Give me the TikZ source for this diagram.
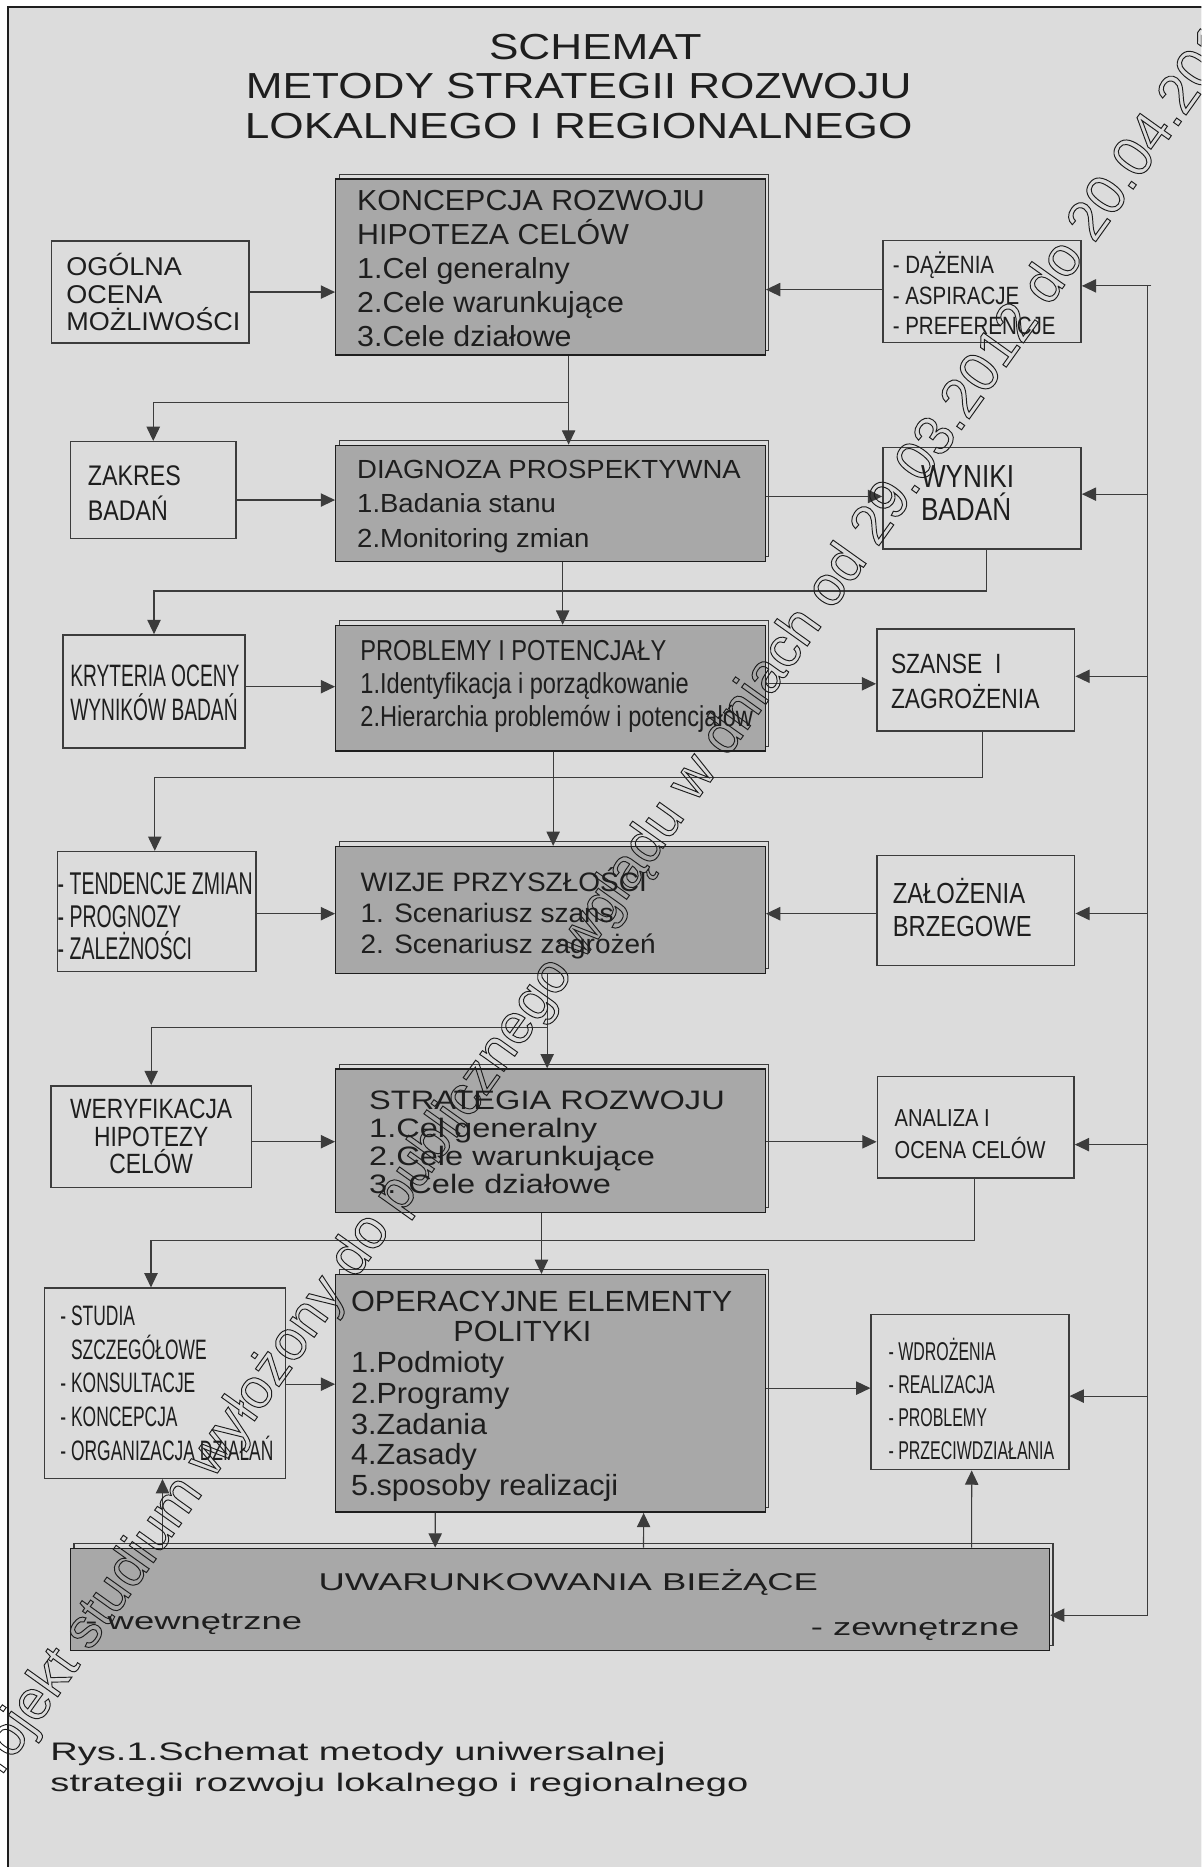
\documentclass[tikz,border=0pt]{standalone}
\usepackage{fontspec}
\setmainfont{Liberation Sans}
\newfontfamily\bardzowaski[FakeStretch=0.62]{Liberation Sans}
\newfontfamily\waski[FakeStretch=0.82]{Liberation Sans}
\newfontfamily\zwykly[FakeStretch=1.05]{Liberation Sans}
\newfontfamily\szeroki[FakeStretch=1.22]{Liberation Sans}
\newfontfamily\bszeroki[FakeStretch=1.5]{Liberation Sans}
\usetikzlibrary{arrows.meta}

\definecolor{tlo}{HTML}{DCDCDC}
\definecolor{pudlo}{HTML}{A8A8A8}
\definecolor{kreska}{HTML}{3C3C3C}
\definecolor{napis}{HTML}{1E1E1E}

\tikzset{
    ciemny/.style={draw=napis, line width=.6pt, fill=pudlo, inner sep=0pt, minimum width=180.35pt,
        preaction={draw=kreska, line width=.5pt, transform canvas={xshift=1.5pt, yshift=2pt}}},
    jasny/.style={draw=kreska, line width=.6pt, fill=tlo, inner sep=0pt},
    opis/.style={anchor=west, align=left, inner sep=0pt, text=napis},
    linia/.style={draw=kreska, line width=.5pt},
    strzalka/.style={linia, -{Triangle[length=6pt, width=5.6pt]}},
}

\begin{document}
\begin{tikzpicture}[x=0.5pt, y=-0.5pt]

        \useasboundingbox (0,0) rectangle (1009,1568);
        \clip (0,0) rectangle (1009,1568);

        % tlo i ramka
        \fill [tlo] (7,6) rectangle (1020,1580);
        \draw [napis, line width=.9pt] (7,1580) -- (7,6) -- (1020,6);

        \node [align=center, text=napis, font={\szeroki\fontsize{15.2}{16.5}\selectfont}] (tytul) at (486,72.5)
            {\hspace*{14pt}SCHEMAT\\METODY STRATEGII ROZWOJU\\LOKALNEGO I REGIONALNEGO};

        % pudla srodkowe
        \node [ciemny, minimum height=73.85pt] (koncepcja) at (462.35,224.35) {};
        \node [ciemny, minimum height=48.8pt] (diagnoza) at (462.35,422.8) {};
        \node [ciemny, minimum height=52.75pt] (problemy) at (462.35,578) {};
        \node [ciemny, minimum height=53.3pt] (wizje) at (462.35,764.3) {};
        \node [ciemny, minimum height=60.2pt] (strategia) at (462.35,958) {};
        \node [ciemny, minimum height=99.75pt] (operacyjne) at (462.35,1170.25) {};
        \node [ciemny, minimum width=411.1pt, minimum height=42.85pt] (uwarunkowania) at (470.3,1343.2) {};

        % pudla z lewej
        \node [jasny, minimum width=83pt, minimum height=42.9pt] (ogolna) at (126.1,245.3) {};
        \node [jasny, minimum width=69.5pt, minimum height=40.65pt] (zakres) at (128.7,411.65) {};
        \node [jasny, minimum width=76.55pt, minimum height=47.5pt] (kryteria) at (129.35,580.7) {};
        \node [jasny, minimum width=83.5pt, minimum height=50.35pt] (tendencje) at (131.6,765.55) {};
        \node [jasny, minimum width=84.15pt, minimum height=42.75pt, align=center, text=napis,
            font={\waski\fontsize{11.7}{11.5}\selectfont}] (weryfikacja) at (126.95,954.65) {WERYFIKACJA\\HIPOTEZY\\CELÓW};
        \node [jasny, minimum width=101pt, minimum height=79.85pt] (studia) at (138.6,1161.7) {};

        % pudla z prawej
        \node [jasny, minimum width=83.25pt, minimum height=42.8pt] (dazenia) at (824.75,244.8) {};
        \node [jasny, minimum width=83.25pt, minimum height=42.65pt] (wyniki) at (824.75,418.45) {};
        \node [jasny, minimum width=83.1pt, minimum height=42.8pt] (szanse) at (819.5,571.1) {};
        \node [jasny, minimum width=83.1pt, minimum height=46.35pt] (zalozenia) at (819.5,764.65) {};
        \node [jasny, minimum width=82.65pt, minimum height=42.65pt] (analiza) at (819.45,946.55) {};
        \node [jasny, minimum width=83pt, minimum height=65.15pt] (wdrozenia) at (814.65,1169.2) {};

        % teksty
        \node [opis, font={\zwykly\fontsize{12.15}{14.3}\selectfont}] (koncepcja tekst) at ([xshift=9.1pt, yshift=-0.55pt]koncepcja.west)
            {KONCEPCJA ROZWOJU\\HIPOTEZA CELÓW\\1.Cel generalny\\2.Cele warunkujące\\3.Cele działowe};
        \node [opis, font={\zwykly\fontsize{11}{14.45}\selectfont}] (diagnoza tekst) at ([xshift=9.1pt, yshift=-1.25pt]diagnoza.west)
            {DIAGNOZA PROSPEKTYWNA\\1.Badania stanu\\2.Monitoring zmian};
        \node [opis, font={\waski\fontsize{12.1}{14}\selectfont}] (problemy tekst) at ([xshift=10.45pt, yshift=0.7pt]problemy.west)
            {PROBLEMY I POTENCJAŁY\\1.Identyfikacja i porządkowanie\\2.Hierarchia problemów i potencjałów};
        \node [opis, font={\zwykly\fontsize{11.2}{12.9}\selectfont}] (wizje tekst) at ([xshift=10.5pt, yshift=-1.35pt]wizje.west)
            {WIZJE PRZYSZŁOŚCI\\1. Scenariusz szans\\2. Scenariusz zagrożeń};
        \node [opis, font={\szeroki\fontsize{11.2}{11.85}\selectfont}] (strategia tekst) at ([xshift=14.15pt, yshift=-0.75pt]strategia.west)
            {STRATEGIA ROZWOJU\\1.Cel generalny\\2.Cele warunkujące\\3. Cele działowe};
        \node [opis, font={\zwykly\fontsize{12.25}{12.9}\selectfont}] (operacyjne tekst) at ([xshift=6.5pt, yshift=-1.2pt]operacyjne.west)
            {OPERACYJNE ELEMENTY\\\hspace*{43pt}POLITYKI\\1.Podmioty\\2.Programy\\3.Zadania\\4.Zasady\\5.sposoby realizacji};

        \node [opis, font={\zwykly\fontsize{10.8}{11.7}\selectfont}] (ogolna tekst) at ([xshift=6.45pt]ogolna.west)
            {OGÓLNA\\OCENA\\MOŻLIWOŚCI};
        \node [opis, font={\waski\fontsize{11.9}{14.45}\selectfont}] (zakres tekst) at ([xshift=7.4pt, yshift=-1.25pt]zakres.west)
            {ZAKRES\\BADAŃ};
        \node [opis, font={\bardzowaski\fontsize{13}{14}\selectfont}] (kryteria tekst) at ([xshift=3.2pt, yshift=-0.65pt]kryteria.west)
            {KRYTERIA OCENY\\WYNIKÓW BADAŃ};
        \node [opis, font={\bardzowaski\fontsize{13.2}{13.55}\selectfont}] (tendencje tekst) at ([xshift=0.3pt, yshift=-2pt]tendencje.west)
            {- TENDENCJE ZMIAN\\- PROGNOZY\\- ZALEŻNOŚCI};
        \node [opis, font={\bardzowaski\fontsize{11.8}{14.1}\selectfont}] (studia tekst) at ([xshift=6.7pt]studia.west)
            {- STUDIA\\\phantom{- }SZCZEGÓŁOWE\\- KONSULTACJE\\- KONCEPCJA\\- ORGANIZACJA DZIAŁAŃ};

        \node [opis, font={\waski\fontsize{10.5}{12.75}\selectfont}] (dazenia tekst) at ([xshift=4.25pt, yshift=-0.85pt]dazenia.west)
            {- DĄŻENIA\\- ASPIRACJE\\- PREFERENCJE};
        \node [opis, font={\waski\fontsize{13.4}{14}\selectfont}] (wyniki tekst) at ([xshift=16.1pt, yshift=2.2pt]wyniki.west)
            {WYNIKI\\BADAŃ};
        \node [opis, font={\waski\fontsize{11.7}{14.7}\selectfont}] (szanse tekst) at ([xshift=6.05pt, yshift=-0.5pt]szanse.west)
            {SZANSE~~I\\ZAGROŻENIA};
        \node [opis, font={\waski\fontsize{12.2}{14}\selectfont}] (zalozenia tekst) at ([xshift=6.8pt, yshift=1.1pt]zalozenia.west)
            {ZAŁOŻENIA\\BRZEGOWE};
        \node [opis, font={\waski\fontsize{10.3}{13.5}\selectfont}] (analiza tekst) at ([xshift=7.4pt, yshift=-2.85pt]analiza.west)
            {ANALIZA I\\OCENA CELÓW};
        \node [opis, font={\bardzowaski\fontsize{10.8}{13.75}\selectfont}] (wdrozenia tekst) at ([xshift=7.4pt, yshift=-2.85pt]wdrozenia.west)
            {- WDROŻENIA\\- REALIZACJA\\- PROBLEMY\\- PRZECIWDZIAŁANIA};

        \node [inner sep=0pt, text=napis, font={\bszeroki\fontsize{10.2}{12}\selectfont}] (uwarunkowania tekst)
            at ([xshift=3.5pt, yshift=7pt]uwarunkowania.center) {UWARUNKOWANIA BIEŻĄCE};
        \node [anchor=base west, inner sep=0pt, text=napis, font={\bszeroki\fontsize{10.2}{12}\selectfont}] (wewnetrzne)
            at ([xshift=6.4pt, yshift=9.15pt]uwarunkowania.south west) {- wewnętrzne};
        \node [anchor=base east, inner sep=0pt, text=napis, font={\bszeroki\fontsize{10.2}{12}\selectfont}] (zewnetrzne)
            at ([xshift=-12.7pt, yshift=6.5pt]uwarunkowania.south east) {- zewnętrzne};

        % pion srodkowy z odgalezieniami
        \draw [strzalka] ([xshift=7.6pt]koncepcja.south) -- ([xshift=7.6pt]diagnoza.north);
        \draw [strzalka] ([xshift=7.6pt, yshift=-19.55pt]koncepcja.south) -| (zakres.north);
        \draw [strzalka] ([xshift=5.1pt]diagnoza.south) -- ([xshift=5.1pt]problemy.north);
        \draw [strzalka] ([xshift=1.75pt]wyniki.south) -- ++(0,-17.3pt) -| (kryteria.north);
        \draw [strzalka] ([xshift=1.1pt]problemy.south) -- ([xshift=1.1pt]wizje.north);
        \draw [strzalka] ([xshift=2.95pt]szanse.south) -- ++(0,-19.3pt) -| ([xshift=-0.8pt]tendencje.north);
        \draw [strzalka] ([xshift=-1.4pt]wizje.south) -- ([xshift=-1.4pt]strategia.north);
        \draw [strzalka] ([xshift=-1.4pt, yshift=-22.45pt]wizje.south) -| (weryfikacja.north);
        \draw [strzalka] ([xshift=-3.8pt]strategia.south) -- ([xshift=-3.8pt]operacyjne.north);
        \draw [strzalka] ([xshift=-0.5pt]analiza.south) -- ++(0,-26pt) -| ([xshift=-5.9pt]studia.north);

        % dol
        \draw [strzalka] ([xshift=-48.4pt]operacyjne.south) -- ([xshift=-52.4pt]uwarunkowania.north);
        \draw [strzalka] ([xshift=35.1pt]uwarunkowania.north) -- ([xshift=39.1pt]operacyjne.south);
        \draw [strzalka] ([xshift=-166.9pt]uwarunkowania.north) -- ([xshift=-1.05pt]studia.south);
        \draw [strzalka] ([xshift=172.85pt]uwarunkowania.north) -- ([xshift=0.7pt]wdrozenia.south);

        % strzalki z lewej
        \foreach \z/\cel/\dy in {ogolna/koncepcja/0pt, zakres/diagnoza/-4.15pt, kryteria/problemy/2pt,
                                 tendencje/wizje/-0.9pt, weryfikacja/strategia/-2.1pt, studia/operacyjne/-0.4pt}
        {
            \coordinate (start) at ([yshift=\dy]\z.east);
            \draw [strzalka] (start) -- (start -| \cel.west);
        }
        % strzalki z prawej do srodka
        \foreach \z/\cel/\dy in {dazenia/koncepcja/0.8pt, zalozenia/wizje/-1.35pt}
        {
            \coordinate (start) at ([yshift=\dy]\z.west);
            \draw [strzalka] (start) -- (start -| \cel.east);
        }
        % strzalki ze srodka w prawo
        \foreach \z/\cel/\dy in {diagnoza/wyniki/0.75pt, problemy/szanse/-1.6pt, strategia/analiza/-6.2pt, operacyjne/wdrozenia/1.7pt}
        {
            \coordinate (koniec) at ([yshift=\dy]\cel.west);
            \draw [strzalka] (koniec -| \z.east) -- (koniec);
        }

        % sprzezenie zwrotne
        \coordinate (powrot gora) at (964,240.1);
        \coordinate (powrot dol) at (964,1356.5);
        \draw [linia] ([xshift=1.5pt]powrot gora) -- (powrot gora) -- (powrot dol);
        \foreach \cel/\y in {dazenia/240.1, wyniki/415, szanse/568, zalozenia/767.2, analiza/961.3, wdrozenia/1172.5, uwarunkowania/1356.5}
        {
            \coordinate (wejscie) at (964,\y);
            \draw [strzalka] (wejscie) -- (wejscie -| \cel.east);
        }

        \node [opis, font={\bszeroki\fontsize{10.65}{13.15}\selectfont}] (podpis) at (42,1486)
            {Rys.1.Schemat metody uniwersalnej\\strategii rozwoju lokalnego i regionalnego};

        % znak wodny
        \node [anchor=base west, rotate=54.5, inner sep=0pt, text=napis, font=\fontsize{23.5}{28}\selectfont] (znak) at (-14.2,1513.1)
            {\special{pdf:literal direct 1 Tr 0.4 w}projekt studium wyłożony do publicznego wglądu w dniach od 29.03.2012 do 20.04.2012\special{pdf:literal direct 0 Tr}};

\end{tikzpicture}
\end{document}
